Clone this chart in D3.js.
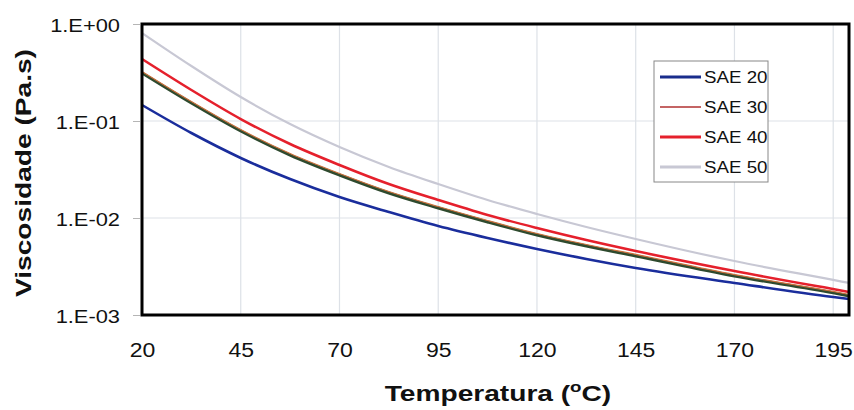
<!DOCTYPE html>
<html><head><meta charset="utf-8">
<script src="https://cdn.jsdelivr.net/npm/d3@7"></script>
<style>body{margin:0;background:#fff}svg{font-family:Arial,"Liberation Sans",sans-serif}</style>
</head><body><svg id="c" width="854" height="410"></svg>
<script>
const temps = [20, 32.5, 45, 57.5, 70, 82.5, 95, 107.5, 120, 132.5, 145, 170, 195, 199];
const sae20 = [0.1462, 0.0752, 0.0416, 0.0252, 0.01646, 0.01153, 0.00827, 0.00622, 0.00479, 0.00378, 0.00305, 0.00214, 0.00153, 0.00146];
const sae30 = [0.324, 0.1588, 0.0817, 0.0462, 0.02875, 0.01875, 0.01314, 0.00943, 0.00692, 0.00533, 0.00421, 0.00261, 0.00175, 0.00163];
const sae40 = [0.4356, 0.2088, 0.1048, 0.0579, 0.0352, 0.0224, 0.01533, 0.01074, 0.00789, 0.00593, 0.00457, 0.00284, 0.00185, 0.00173];
const sae50 = [0.8078, 0.369, 0.1768, 0.0931, 0.054, 0.0336, 0.0224, 0.01533, 0.011, 0.00808, 0.00608, 0.0036, 0.0023, 0.00214];
const baseOil = [0.3125, 0.1533, 0.0789, 0.0446, 0.02775, 0.0181, 0.01268, 0.0091, 0.00668, 0.00514, 0.00406, 0.00252, 0.00169, 0.00157];
const xTicks = [20, 45, 70, 95, 120, 145, 170, 195];
const yTicks = [1, 0.1, 0.01, 0.001];
const yTickLabels = ["1.E+00", "1.E-01", "1.E-02", "1.E-03"];
const legendNames = ["SAE 20", "SAE 30", "SAE 40", "SAE 50"];

const svg = d3.select("#c");
const x = d3.scaleLinear().domain([20, 199]).range([142, 849]);
const y = d3.scaleLog().domain([0.001, 1]).range([315, 24]);
const SX = 1.15;

function stretch(sel, k) {
  sel.each(function () {
    const w = this.getComputedTextLength();
    d3.select(this).attr("textLength", w * k).attr("lengthAdjust", "spacingAndGlyphs");
  });
}

// grid
svg.append("g").selectAll("line").data(xTicks.slice(1)).join("line")
  .attr("x1", d => x(d)).attr("x2", d => x(d)).attr("y1", 24).attr("y2", 315)
  .attr("stroke", "#dde1e7").attr("stroke-width", 1.2);
svg.append("g").selectAll("line").data(yTicks.slice(1, 3)).join("line")
  .attr("x1", 142).attr("x2", 849).attr("y1", d => y(d)).attr("y2", d => y(d))
  .attr("stroke", "#dde1e7").attr("stroke-width", 1.2);

// y axis
const yAxis = d3.axisLeft(y).tickValues(yTicks).tickFormat((d, i) => yTickLabels[i]).tickSize(0).tickPadding(0);
const gy = svg.append("g").attr("transform", "translate(142,0)").call(yAxis);
gy.select(".domain").remove();
gy.selectAll(".tick line").remove();
gy.selectAll(".tick").append("line").attr("x1", -9).attr("x2", -2).attr("stroke", "#b5b5b5").attr("stroke-width", 1);
gy.selectAll("text").attr("font-size", 19).attr("fill", "#111").attr("x", -22).attr("dy", "0.38em");
stretch(gy.selectAll("text"), SX);

// x axis
const xAxis = d3.axisBottom(x).tickValues(xTicks).tickSize(0).tickPadding(0);
const gx = svg.append("g").attr("transform", "translate(0,315)").call(xAxis);
gx.select(".domain").remove();
gx.selectAll("text").attr("font-size", 20).attr("fill", "#111").attr("y", 42).attr("dy", 0);
stretch(gx.selectAll("text"), SX);

// lines
const line = d3.line().x((d, i) => x(temps[i])).y(d => y(d)).curve(d3.curveMonotoneX);
const series = [
  {v: sae50, c: "#c8c8d4", w: 2.2},
  {v: baseOil, c: "#2e4a2e", w: 3},
  {v: sae30, c: "#c8703c", w: 1.2},
  {v: sae40, c: "#e5202c", w: 2.6},
  {v: sae20, c: "#1a2d9c", w: 2.6}
];
svg.append("g").selectAll("path").data(series).join("path")
  .attr("d", d => line(d.v)).attr("fill", "none")
  .attr("stroke", d => d.c).attr("stroke-width", d => d.w);

// frame
svg.append("rect").attr("x", 142).attr("y", 24).attr("width", 707).attr("height", 291)
  .attr("fill", "none").attr("stroke", "#000").attr("stroke-width", 3);

// legend
const lg = svg.append("g");
lg.append("rect").attr("x", 654).attr("y", 61).attr("width", 114).attr("height", 121)
  .attr("fill", "#fff").attr("stroke", "#888").attr("stroke-width", 1);
const legStyles = [{c: "#1a2d8c", w: 3}, {c: "#b03030", w: 1.3}, {c: "#e5202c", w: 3}, {c: "#c8c8d4", w: 3}];
legendNames.forEach((n, i) => {
  const yy = 77 + i * 30;
  lg.append("line").attr("x1", 660).attr("x2", 701).attr("y1", yy).attr("y2", yy)
    .attr("stroke", legStyles[i].c).attr("stroke-width", legStyles[i].w);
  const t = lg.append("text").attr("x", 704).attr("y", yy + 6).attr("font-size", 16).attr("fill", "#111").text(n);
  stretch(t, 1.17);
});

// titles
svg.append("text").attr("transform", "translate(31,173) rotate(-90) scale(1.25,1)").attr("text-anchor", "middle")
  .attr("font-size", 22.5).attr("font-weight", "bold").attr("fill", "#111").text("Viscosidade (Pa.s)");
const xt = svg.append("text").attr("transform", "translate(498,401) scale(1.25,1)").attr("text-anchor", "middle")
  .attr("font-size", 22.5).attr("font-weight", "bold").attr("fill", "#111");
xt.append("tspan").text("Temperatura (");
xt.append("tspan").attr("font-size", 15).attr("dy", -9).text("o");
xt.append("tspan").attr("dy", 9).text("C)");
</script></body></html>
